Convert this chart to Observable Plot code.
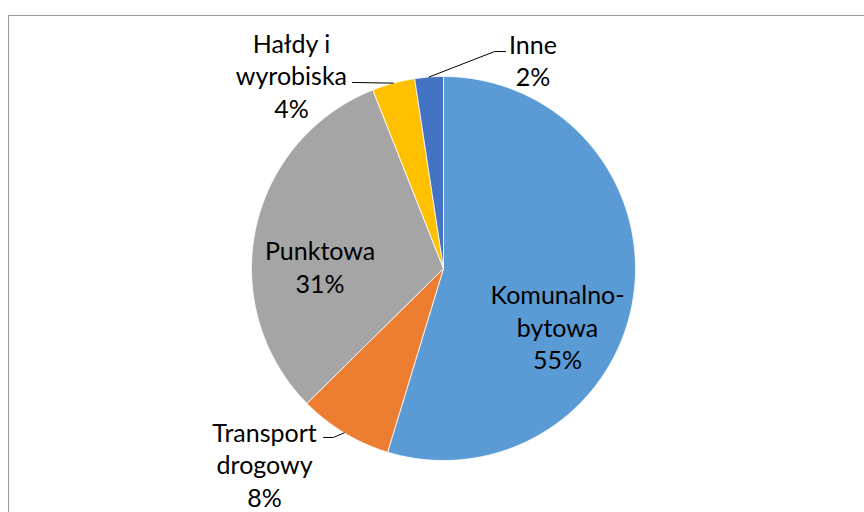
<!DOCTYPE html>
<html><head><meta charset="utf-8">
<script src="https://cdn.jsdelivr.net/npm/d3@7"></script>
<script src="https://cdn.jsdelivr.net/npm/@observablehq/plot@0.6"></script>
<style>
html,body{margin:0;padding:0;background:#fff;overflow:hidden;}
#wrap{position:relative;width:864px;height:512px;overflow:hidden;}
#border{position:absolute;left:8px;top:15px;width:900px;height:600px;border:1px solid #999;box-sizing:border-box;}
#chart{position:absolute;left:0;top:0;}
</style></head><body>
<div id="wrap"><div id="border"></div><div id="chart"></div></div>
<script>
// ---- data ----
const categories = ["Komunalno-bytowa", "Transport drogowy", "Punktowa", "Hałdy i wyrobiska", "Inne"];
const shares = [54.7, 7.9, 31.4, 3.6, 2.4];
const labelNames = ["Komunalno-\nbytowa", "Transport\ndrogowy", "Punktowa", "Hałdy i\nwyrobiska", "Inne"];
const colors = ["#5B9BD5", "#ED7D31", "#A5A5A5", "#FFC000", "#4472C4"];

// ---- layout (data units, pie radius = 1) ----
const labelPos = [[0.594, -0.302], [-0.932, -1.018], [-0.643, 0.013], [-0.792, 1.008], [0.466, 1.089]];
const leaderPath = [null, [[-0.573, -0.880], [-0.625, -0.880]], null, [[-0.474, 0.969]], [[0.266, 1.130], [0.323, 1.130]]];

const total = d3.sum(shares);
const slicePts = [];
const labels = [];
const leaders = [];
let cum = 0;
categories.forEach((name, i) => {
  const a0 = cum / total * 2 * Math.PI;
  cum += shares[i];
  const a1 = cum / total * 2 * Math.PI;
  const n = Math.max(2, Math.ceil((a1 - a0) / (Math.PI / 360)));
  slicePts.push({name, x: 0, y: 0});
  for (let k = 0; k <= n; k++) {
    const a = a0 + (a1 - a0) * k / n;
    slicePts.push({name, x: Math.sin(a), y: Math.cos(a)});
  }
  slicePts.push({name, x: 0, y: 0});
  labels.push({x: labelPos[i][0], y: labelPos[i][1], text: labelNames[i] + "\n" + Math.round(shares[i]) + "%"});
  if (leaderPath[i]) {
    const am = (a0 + a1) / 2;
    leaders.push({name, x: Math.sin(am), y: Math.cos(am)});
    leaderPath[i].forEach(p => leaders.push({name, x: p[0], y: p[1]}));
  }
});

const chart = Plot.plot({
  width: 864,
  height: 512,
  marginLeft: 251,
  marginRight: 229,
  marginTop: 76,
  marginBottom: 52,
  x: {domain: [-1, 1], axis: null},
  y: {domain: [-1, 1], axis: null},
  color: {domain: categories, range: colors},
  style: {background: "transparent", fontFamily: "Lato"},
  marks: [
    Plot.line(slicePts, {x: "x", y: "y", z: "name", fill: "name", stroke: "white", strokeWidth: 0.8, strokeLinejoin: "round", curve: "linear"}),
    Plot.line(leaders, {x: "x", y: "y", z: "name", stroke: "#000", strokeWidth: 1, curve: "linear"}),
    Plot.text(labels, {x: "x", y: "y", text: "text", fontSize: 25, fontFamily: "Lato", lineHeight: 1.3, fill: "#000", textAnchor: "middle", lineAnchor: "middle"})
  ]
});
document.getElementById("chart").appendChild(chart);
</script>
</body></html>
